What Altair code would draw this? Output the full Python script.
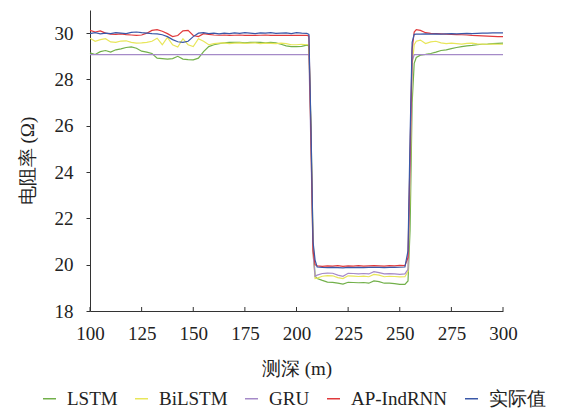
import altair as alt
import pandas as pd

# ---------------- data ----------------
depth = [
    100, 102.5, 105, 107.5, 110, 112.5, 115, 117.5, 120, 122.5, 125, 127.5, 130, 132.5,
    135, 137.5, 140, 142.5, 145, 147.5, 150, 152.5, 155, 157.5, 160, 162.5, 165, 167.5,
    170, 172.5, 175, 177.5, 180, 182.5, 185, 187.5, 190, 192.5, 195, 197.5, 200, 202.5, 205,
    206, 207, 208, 209,
    210, 212.5, 215, 217.5, 220, 222.5, 225, 227.5, 230, 232.5, 235, 237.5, 240, 242.5,
    245, 247.5, 250, 252.5,
    254, 255, 256, 257, 258,
    260, 262.5, 265, 267.5, 270, 272.5, 275, 277.5, 280, 282.5, 285, 287.5, 290, 292.5,
    295, 297.5, 300,
]

lstm = [
    29.15, 29.08, 29.20, 29.25, 29.18, 29.28, 29.32, 29.38, 29.41, 29.35, 29.22, 29.18, 29.12, 28.92,
    28.90, 28.88, 28.90, 29.00, 28.88, 28.86, 28.85, 28.92, 29.20, 29.42, 29.50, 29.55, 29.58, 29.60,
    29.60, 29.60, 29.58, 29.60, 29.60, 29.60, 29.58, 29.60, 29.58, 29.52, 29.45, 29.42, 29.42, 29.43, 29.48,
    29.45, 26.0, 21.0, 19.5,
    19.40, 19.32, 19.25, 19.24, 19.20, 19.16, 19.24, 19.23, 19.22, 19.23, 19.20, 19.30, 19.27, 19.20,
    19.20, 19.18, 19.15, 19.15,
    19.3, 21.5, 27.0, 28.7, 28.95,
    29.05, 29.08, 29.12, 29.18, 29.25, 29.28, 29.33, 29.38, 29.42, 29.45, 29.47, 29.50, 29.52, 29.53,
    29.55, 29.56, 29.57,
]

bilstm = [
    29.78, 29.65, 29.72, 29.76, 29.62, 29.60, 29.66, 29.67, 29.60, 29.57, 29.58, 29.60, 29.65, 29.78,
    29.50, 29.82, 29.50, 29.40, 29.76, 29.50, 29.42, 29.76, 29.65, 29.50, 29.55, 29.57, 29.58, 29.55,
    29.57, 29.58, 29.56, 29.57, 29.58, 29.55, 29.57, 29.56, 29.55, 29.57, 29.55, 29.50, 29.50, 29.52, 29.50,
    29.50, 25.5, 20.5, 19.4,
    19.42, 19.50, 19.53, 19.52, 19.44, 19.40, 19.52, 19.51, 19.49, 19.51, 19.48, 19.58, 19.55, 19.48,
    19.50, 19.49, 19.47, 19.48,
    19.7, 23.5, 28.6, 29.5, 29.65,
    29.70, 29.55, 29.62, 29.65, 29.58, 29.55, 29.57, 29.55, 29.53, 29.56, 29.57, 29.54, 29.53, 29.52,
    29.53, 29.52, 29.52,
]

gru = [
    29.07, 29.07, 29.07, 29.07, 29.07, 29.07, 29.07, 29.07, 29.07, 29.07, 29.07, 29.07, 29.07, 29.07,
    29.07, 29.07, 29.07, 29.07, 29.07, 29.07, 29.07, 29.07, 29.07, 29.07, 29.07, 29.07, 29.07, 29.07,
    29.07, 29.07, 29.07, 29.07, 29.07, 29.07, 29.07, 29.07, 29.07, 29.07, 29.07, 29.07, 29.07, 29.07, 29.07,
    29.07, 25.0, 20.5, 19.5,
    19.55, 19.62, 19.64, 19.63, 19.55, 19.50, 19.63, 19.62, 19.60, 19.62, 19.60, 19.70, 19.66, 19.60,
    19.61, 19.60, 19.58, 19.60,
    19.8, 24.0, 28.8, 29.07, 29.07,
    29.07, 29.07, 29.07, 29.07, 29.07, 29.07, 29.07, 29.07, 29.07, 29.07, 29.07, 29.07, 29.07, 29.07,
    29.07, 29.07, 29.07,
]

ap_indrnn = [
    30.12, 30.05, 30.10, 30.00, 29.96, 29.95, 29.97, 29.94, 29.92, 29.90, 29.92, 30.00, 30.12, 30.15,
    30.08, 29.98, 29.85, 29.90, 30.10, 30.12, 29.90, 29.85, 29.98, 29.95, 29.92, 29.91, 29.92, 29.90,
    29.91, 29.92, 29.90, 29.91, 29.90, 29.91, 29.92, 29.90, 29.91, 29.90, 29.91, 29.90, 29.90, 29.91, 29.90,
    29.88, 25.5, 20.6, 20.0,
    19.95, 19.93, 19.95, 19.94, 19.96, 19.93, 19.95, 19.94, 19.96, 19.94, 19.95, 19.96, 19.95, 19.94,
    19.96, 19.95, 19.97, 19.96,
    20.3, 24.8, 29.3, 30.05, 30.15,
    30.12, 30.02, 29.99, 29.98, 29.97, 29.96, 29.95, 29.94, 29.93, 29.92, 29.90, 29.89, 29.88, 29.87,
    29.86, 29.85, 29.85,
]

actual = [
    29.98, 30.02, 29.97, 30.00, 29.98, 30.02, 30.00, 29.98, 30.03, 30.05, 30.02, 30.00, 29.98, 29.97,
    29.93, 29.85, 29.72, 29.63, 29.60, 29.65, 29.85, 30.00, 30.02, 29.98, 30.00, 29.97, 30.00, 29.98,
    30.01, 29.99, 30.02, 30.00, 29.98, 30.01, 30.00, 30.02, 29.99, 30.00, 30.01, 29.98, 30.02, 30.00, 29.99,
    29.95, 26.0, 21.0, 20.2,
    19.90, 19.88, 19.87, 19.88, 19.87, 19.86, 19.88, 19.87, 19.88, 19.87, 19.88, 19.89, 19.88, 19.87,
    19.88, 19.88, 19.89, 19.90,
    20.6, 25.5, 29.6, 29.95, 29.96,
    29.96, 29.97, 29.96, 29.97, 29.96, 29.97, 29.98, 29.97, 29.98, 29.99, 29.98, 29.99, 30.00, 30.00,
    30.01, 30.01, 30.01,
]

series_names = ["LSTM", "BiLSTM", "GRU", "AP-IndRNN", "实际值"]
series_colors = ["#72b04a", "#e8e65a", "#a58ac8", "#e0393b", "#3a58a8"]
x_ticks = [100, 125, 150, 175, 200, 225, 250, 275, 300]
y_ticks = [18, 20, 22, 24, 26, 28, 30]

# ---------------- table ----------------
rows = []
for k, (name, vals) in enumerate(zip(series_names, [lstm, bilstm, gru, ap_indrnn, actual])):
    assert len(vals) == len(depth), (name, len(vals), len(depth))
    for d, v in zip(depth, vals):
        rows.append({"depth": d, "value": v, "series": name, "k": k})
df = pd.DataFrame(rows)

FONT = "Liberation Serif, Times New Roman, DejaVu Serif, serif"
x_scale = alt.Scale(domain=[100, 300], nice=False, zero=False)
y_scale = alt.Scale(domain=[18, 31], nice=False, zero=False)

x_axis = alt.Axis(title="测深 (m)", values=x_ticks, ticks=False, grid=False,
                  labelPadding=13, titlePadding=16, format="d", labelFlush=False,
                  labelFont=FONT, titleFont=FONT, labelFontSize=19, titleFontSize=19,
                  labelColor="#222", titleColor="#222", titleFontWeight="normal",
                  domainColor="#333")
y_axis = alt.Axis(title="电阻率 (Ω)", values=y_ticks, grid=False, tickSize=4,
                  labelPadding=13, titlePadding=17, format="d",
                  labelFont=FONT, titleFont=FONT, labelFontSize=19, titleFontSize=19,
                  labelColor="#222", titleColor="#222", titleFontWeight="normal",
                  domainColor="#333", tickColor="#333")

lines = alt.Chart(df).mark_line(strokeWidth=1.2).encode(
    x=alt.X("depth:Q", scale=x_scale, axis=x_axis),
    y=alt.Y("value:Q", scale=y_scale, axis=y_axis),
    color=alt.Color("series:N",
                    scale=alt.Scale(domain=series_names, range=series_colors),
                    legend=alt.Legend(title=None, orient="none", direction="horizontal",
                                      legendX=-50, legendY=379, symbolType="stroke",
                                      symbolSize=169, symbolStrokeWidth=1.5,
                                      labelFontSize=19, labelFont=FONT, labelColor="#222",
                                      labelOffset=8, columnPadding=14, padding=0)),
    detail="series:N",
    order=alt.Order("depth:Q"),
)

tick_df = pd.DataFrame({"t": x_ticks})
ticks = alt.Chart(tick_df).mark_rule(color="#333", strokeWidth=1).encode(
    x=alt.X("t:Q", scale=x_scale, axis=x_axis),
    y=alt.value(297),
    y2=alt.value(301),
)

chart = alt.layer(lines, ticks).properties(
    width=413, height=301,
    autosize=alt.AutoSizeParams(type="none"),
    padding={"left": 82, "top": 2, "right": 57, "bottom": 104},
    background="white",
).configure_view(stroke=None)

chart.save("out.html", embed_options={"renderer": "svg", "actions": False})
